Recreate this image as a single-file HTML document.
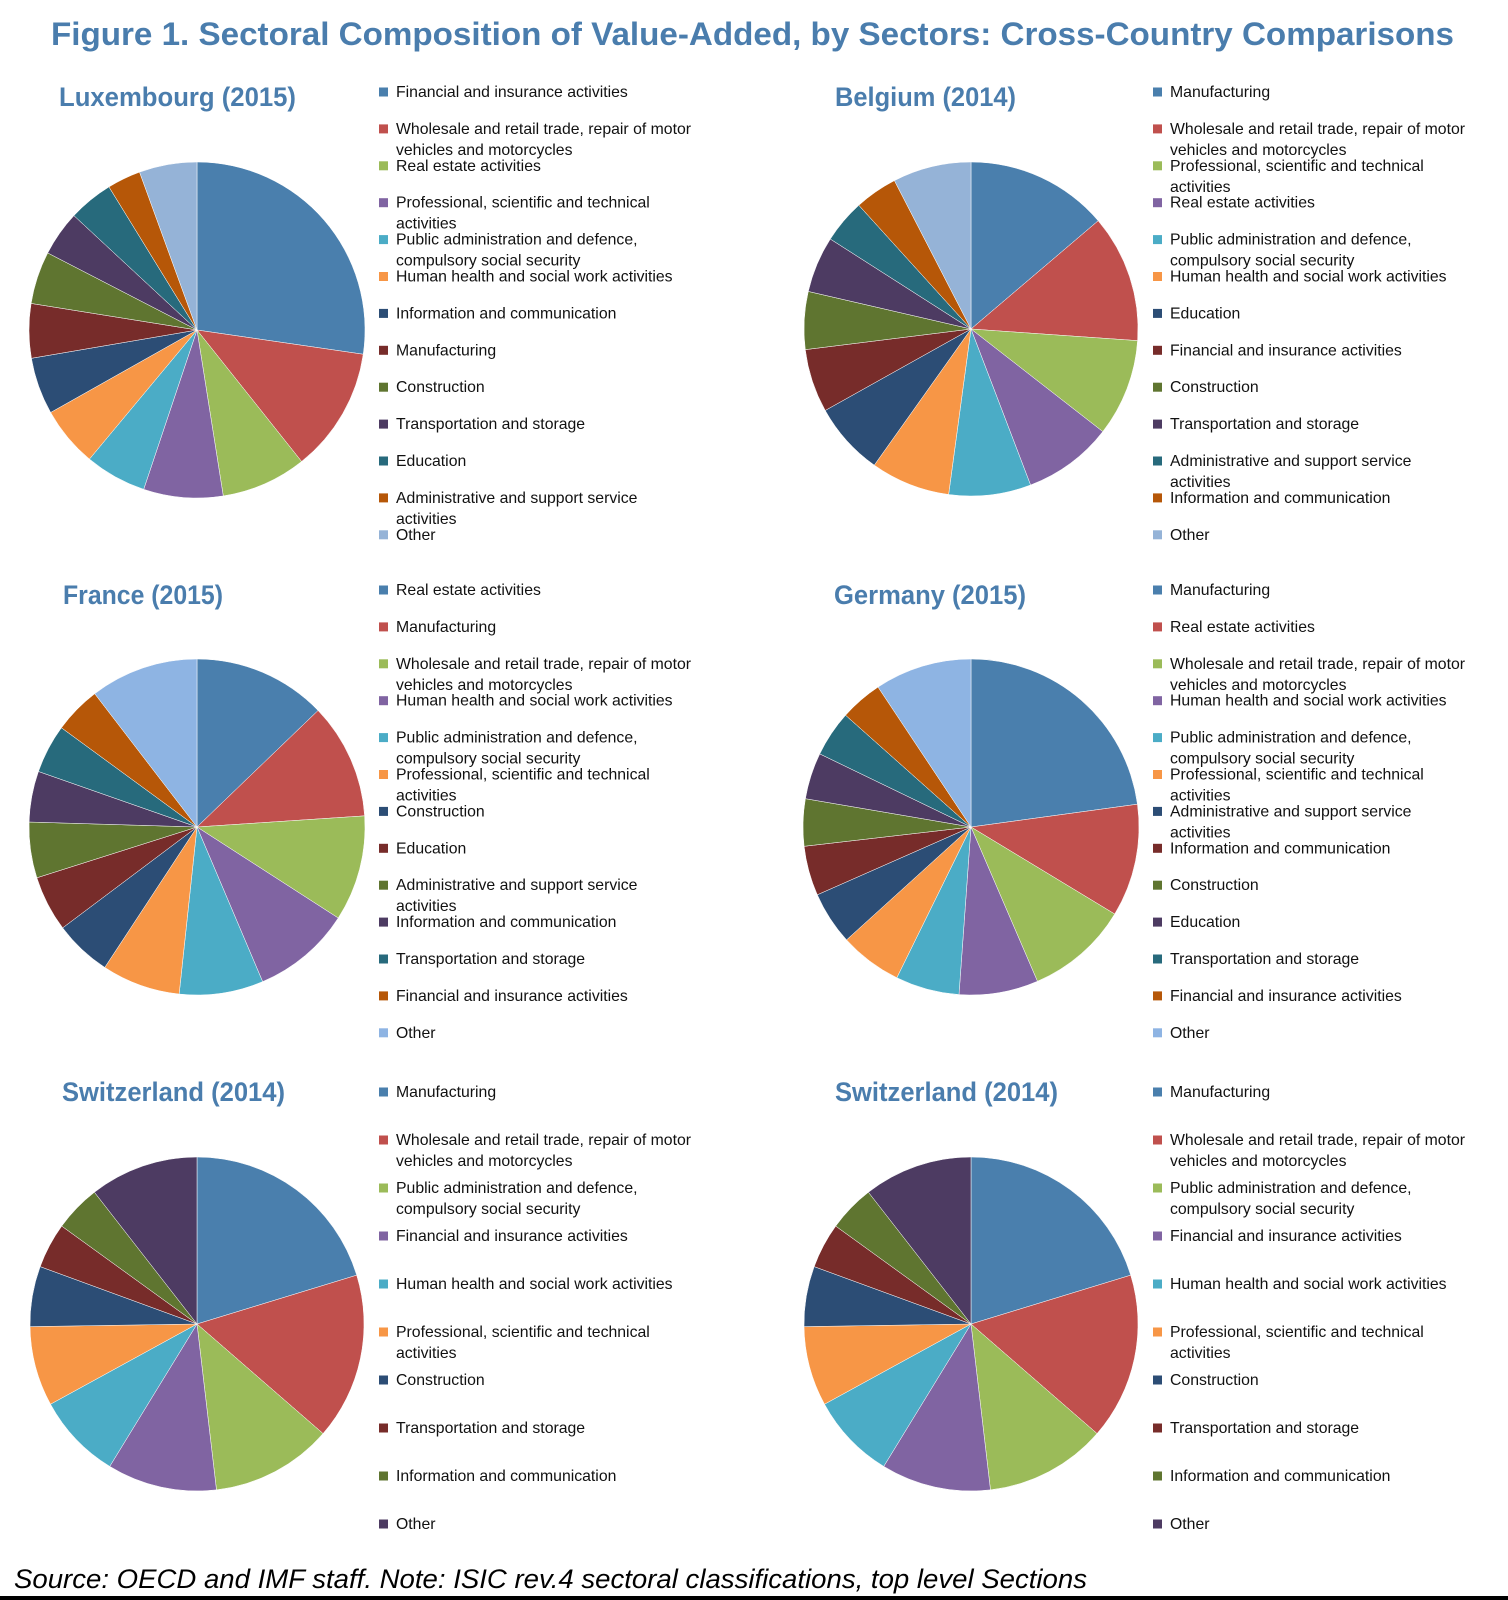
<!DOCTYPE html>
<html><head><meta charset="utf-8"><style>
html,body{margin:0;padding:0;background:#fff;}
svg{display:block;}
</style></head><body>
<svg id="fig" xmlns="http://www.w3.org/2000/svg" width="1508" height="1600" viewBox="0 0 1508 1600">
<rect width="1508" height="1600" fill="#fff"/>
<text x="51" y="45" font-family="Liberation Sans, sans-serif" font-weight="bold" font-size="32" fill="#4A7DAD" textLength="1403" lengthAdjust="spacingAndGlyphs">Figure 1. Sectoral Composition of Value-Added, by Sectors: Cross-Country Comparisons</text>
<text x="14" y="1588" font-family="Liberation Sans, sans-serif" font-style="italic" font-size="27" fill="#000" textLength="1073" lengthAdjust="spacingAndGlyphs">Source: OECD and IMF staff. Note: ISIC rev.4 sectoral classifications, top level Sections</text>
<rect x="0" y="1596" width="1508" height="4" fill="#000"/>
<g id="charts"></g>
</svg>
<script>
const palette=["#4A7FAD","#C0504D","#9BBB59","#8064A2","#4BACC6","#F79646","#2C4D75","#772C2A","#5F7530","#4D3B62","#276A7C","#B65708","#93B3DD"];
// chart 1: Luxembourg
const luxValues=[98.3,43.2,29.5,27.5,21.3,20.8,19.7,18.8,18.2,15.6,15.5,11.6,20.0];
const luxLabels=["Financial and insurance activities","Wholesale and retail trade, repair of motor|vehicles and motorcycles","Real estate activities","Professional, scientific and technical|activities","Public administration and defence,|compulsory social security","Human health and social work activities","Information and communication","Manufacturing","Construction","Transportation and storage","Education","Administrative and support service|activities","Other"];
// chart 2: Belgium
const belValues=[49.6,44.4,33.9,31.2,28.6,27.7,25.4,22.1,20.1,19.6,15.2,14.9,27.3];
const belLabels=["Manufacturing","Wholesale and retail trade, repair of motor|vehicles and motorcycles","Professional, scientific and technical|activities","Real estate activities","Public administration and defence,|compulsory social security","Human health and social work activities","Education","Financial and insurance activities","Construction","Transportation and storage","Administrative and support service|activities","Information and communication","Other"];
// chart 3: France
const fraValues=[46.1,40.1,36.6,34.2,29.1,27.2,19.8,19.3,19.3,17.6,16.9,16.3,37.5];
const fraLabels=["Real estate activities","Manufacturing","Wholesale and retail trade, repair of motor|vehicles and motorcycles","Human health and social work activities","Public administration and defence,|compulsory social security","Professional, scientific and technical|activities","Construction","Education","Administrative and support service|activities","Information and communication","Transportation and storage","Financial and insurance activities","Other"];
// chart 4: Germany
const gerValues=[82.2,39.0,35.5,27.4,22.1,21.6,18.4,17.2,16.3,16.1,15.9,14.7,33.6];
const gerLabels=["Manufacturing","Real estate activities","Wholesale and retail trade, repair of motor|vehicles and motorcycles","Human health and social work activities","Public administration and defence,|compulsory social security","Professional, scientific and technical|activities","Administrative and support service|activities","Information and communication","Construction","Education","Transportation and storage","Financial and insurance activities","Other"];
// chart 5 & 6: Switzerland
const cheValues=[73.0,58.0,42.3,38.2,29.8,27.8,21.0,15.8,16.2,37.9];
const cheLabels=["Manufacturing","Wholesale and retail trade, repair of motor|vehicles and motorcycles","Public administration and defence,|compulsory social security","Financial and insurance activities","Human health and social work activities","Professional, scientific and technical|activities","Construction","Transportation and storage","Information and communication","Other"];
const che2Values=[73.0,58.0,42.3,38.2,29.8,27.8,21.0,15.8,16.2,37.9];

const titles=["Luxembourg (2015)","Belgium (2014)","France (2015)","Germany (2015)","Switzerland (2014)","Switzerland (2014)"];
const charts=[
 {name:"luxembourg",vals:luxValues,labs:luxLabels,cx:197,cy:330,r:168,tx:59,ty:106,tw:237,lx:379,ly:92,ls:36.9,oc:"#95B3D7"},
 {name:"belgium",vals:belValues,labs:belLabels,cx:971,cy:329,r:167,tx:835,ty:106,tw:181,lx:1153,ly:92,ls:36.9,oc:"#95B3D7"},
 {name:"france",vals:fraValues,labs:fraLabels,cx:197,cy:827,r:168,tx:63,ty:604,tw:160,lx:379,ly:590,ls:36.9,oc:"#8EB4E3"},
 {name:"germany",vals:gerValues,labs:gerLabels,cx:971,cy:827,r:168,tx:834,ty:604,tw:192,lx:1153,ly:590,ls:36.9,oc:"#8EB4E3"},
 {name:"switzerland-left",vals:cheValues,labs:cheLabels,cx:197,cy:1324,r:167,tx:62,ty:1101,tw:223,lx:379,ly:1092,ls:48.0,oc:"#4D3B62"},
 {name:"switzerland-right",vals:che2Values,labs:cheLabels,cx:971,cy:1324,r:167,tx:835,ty:1101,tw:223,lx:1153,ly:1092,ls:48.0,oc:"#4D3B62"}
];
const NS="http://www.w3.org/2000/svg";
const root=document.getElementById("charts");
function pt(cx,cy,r,a){return [cx+r*Math.sin(a),cy-r*Math.cos(a)];}
charts.forEach((c,ci)=>{
  const g=document.createElementNS(NS,"g");
  
  
  root.appendChild(g);
  const t=document.createElementNS(NS,"text");
  
  
  t.setAttribute("x",c.tx);t.setAttribute("y",c.ty);
  t.setAttribute("font-family","Liberation Sans, sans-serif");t.setAttribute("font-weight","bold");
  t.setAttribute("font-size","27");t.setAttribute("fill","#4A7DAD");
  t.setAttribute("textLength",c.tw);t.setAttribute("lengthAdjust","spacingAndGlyphs");
  t.textContent=titles[ci];g.appendChild(t);
  const total=c.vals.reduce((a,b)=>a+b,0);
  let acc=0;
  const n=c.vals.length;
  c.vals.forEach((v,i)=>{
    const a0=acc/total*2*Math.PI; acc+=v; const a1=acc/total*2*Math.PI;
    const p0=pt(c.cx,c.cy,c.r,a0),p1=pt(c.cx,c.cy,c.r,a1);
    const large=(a1-a0)>Math.PI?1:0;
    const p=document.createElementNS(NS,"path");
    
    
    p.setAttribute("d",`M${c.cx},${c.cy}L${p0[0]},${p0[1]}A${c.r},${c.r} 0 ${large} 1 ${p1[0]},${p1[1]}Z`);
    const col=(i===n-1)?c.oc:palette[i];
    p.setAttribute("fill",col);p.setAttribute("stroke","#fff");p.setAttribute("stroke-width","0.5");
    g.appendChild(p);
  });
  c.labs.forEach((lab,i)=>{
    const y=c.ly+i*c.ls;
    const col=(i===c.labs.length-1)?c.oc:palette[i];
    const sq=document.createElementNS(NS,"rect");
    
    
    sq.setAttribute("x",c.lx);sq.setAttribute("y",y-4.5);sq.setAttribute("width",9);sq.setAttribute("height",9);
    sq.setAttribute("fill",col);g.appendChild(sq);
    const tx=document.createElementNS(NS,"text");
    
    
    tx.setAttribute("font-family","Liberation Sans, sans-serif");tx.setAttribute("font-size","15.8");
    tx.setAttribute("fill","#111");
    lab.split("|").forEach((ln,k)=>{
      const s=document.createElementNS(NS,"tspan");
      s.setAttribute("x",c.lx+17);s.setAttribute("y",y+5+k*21);s.textContent=ln;tx.appendChild(s);
    });
    g.appendChild(tx);
  });
});
</script>
</body></html>
